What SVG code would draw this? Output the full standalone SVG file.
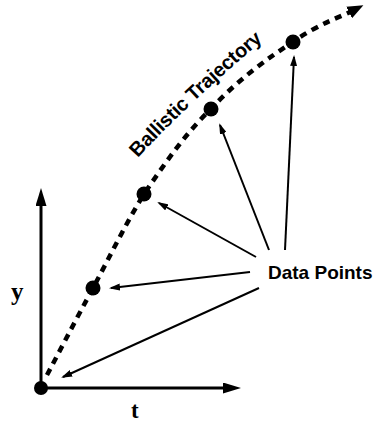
<svg xmlns="http://www.w3.org/2000/svg" width="373" height="423" viewBox="0 0 373 423">
<style>
.axis{stroke:#000;stroke-width:3;fill:none}
.traj{stroke:#000;stroke-width:4.5;fill:none;stroke-dasharray:7 6}
.ptr{stroke:#000;stroke-width:2;fill:none}
.dot{fill:#000}
.sans{font-family:"Liberation Sans",Arial,sans-serif;font-weight:bold;fill:#000}
.serif{font-family:"Liberation Serif","Times New Roman",serif;font-weight:bold;fill:#000}
</style>
<defs>
<marker id="axisHead" markerUnits="userSpaceOnUse" viewBox="0 0 18 11" markerWidth="18" markerHeight="11" refX="1" refY="5.5" orient="auto">
<path d="M0,0 L18,5.5 L0,11 z" fill="#000"/>
</marker>
<marker id="trajHead" markerUnits="userSpaceOnUse" viewBox="0 0 16 13" markerWidth="16" markerHeight="13" refX="1" refY="6.5" orient="auto">
<path d="M0,0 L16,6.5 L0,13 z" fill="#000"/>
</marker>
<marker id="ptrHead" markerUnits="userSpaceOnUse" viewBox="0 0 11 7" markerWidth="11" markerHeight="7" refX="9" refY="3.5" orient="auto">
<path d="M0,0 L11,3.5 L0,7 z" fill="#000"/>
</marker>
<path id="textCurve" d="M138,158 Q183,108 268,36" fill="none"/>
</defs>
<g id="connectors">
<line class="axis" x1="41" y1="388" x2="41" y2="205" marker-end="url(#axisHead)"/>
<line class="axis" x1="41" y1="388" x2="224" y2="388" marker-end="url(#axisHead)"/>
<path class="traj" d="M47,375 C54.7,360.5 76.7,318.2 93,288 C109.3,257.8 125.5,224 144,194 C164.5,164 185.3,133.5 211,109 C234.7,82.5 268,57.7 293,42 C316.3,25 340.5,16.8 350,12" marker-end="url(#trajHead)"/>
<line class="ptr" x1="285" y1="250" x2="294" y2="57" marker-end="url(#ptrHead)"/>
<line class="ptr" x1="269" y1="250" x2="220" y2="125" marker-end="url(#ptrHead)"/>
<line class="ptr" x1="256" y1="257" x2="159" y2="203" marker-end="url(#ptrHead)"/>
<line class="ptr" x1="250" y1="272" x2="111" y2="288" marker-end="url(#ptrHead)"/>
<line class="ptr" x1="259" y1="288" x2="63" y2="377" marker-end="url(#ptrHead)"/>
</g>
<g id="origin"><circle class="dot" cx="41" cy="388" r="7"/></g>
<g id="point1"><circle class="dot" cx="93" cy="288" r="7.5"/></g>
<g id="point2"><circle class="dot" cx="144" cy="194" r="7.5"/></g>
<g id="point3"><circle class="dot" cx="211" cy="109" r="7.5"/></g>
<g id="point4"><circle class="dot" cx="293" cy="42" r="7.5"/></g>
<g id="label-trajectory"><text class="sans" font-size="20"><textPath href="#textCurve" textLength="172" lengthAdjust="spacing">Ballistic Trajectory</textPath></text></g>
<g id="label-datapoints"><text class="sans" font-size="19" x="268" y="279">Data Points</text></g>
<g id="label-y"><text class="serif" font-size="25" x="11" y="300">y</text></g>
<g id="label-t"><text class="serif" font-size="23" x="131" y="418">t</text></g>
</svg>
